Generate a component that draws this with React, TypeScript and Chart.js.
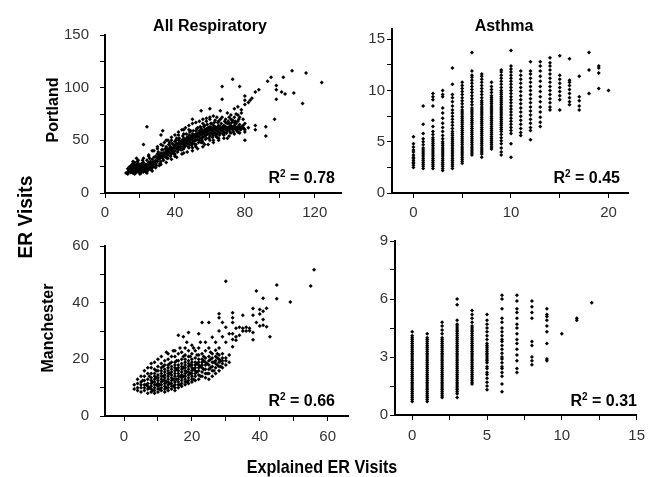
import React, { useEffect, useRef } from 'react';
import { Chart, registerables } from 'chart.js';
Chart.register(...registerables);

const FONT = '"Liberation Sans", Arial, Helvetica, sans-serif';

// ---------- Portland, All Respiratory (x = explained, y = observed) ----------
const PORTLAND_ALL: number[][] = [
  [13,20],[14,21],[14,23],[15,20],[15,22],[15,24],[15,26],[16,19],[16,21],[16,23],[16,25],[16,28],
  [17,20],[17,22],[17,24],[17,26],[17,29],[18,20],[18,21],[18,23],[18,25],[18,27],[19,20],[19,22],
  [19,24],[19,26],[19,28],[20,20],[20,21],[20,23],[20,25],[20,27],[21,21],[21,22],[21,24],[21,26],
  [21,28],[22,20],[22,22],[22,24],[22,26],[22,29],[23,21],[23,23],[23,25],[23,27],[24,21],[24,23],
  [24,25],[24,27],[24,31],[25,22],[25,24],[25,26],[25,29],[26,23],[26,25],[26,27],[26,30],[27,24],
  [27,26],[27,28],[27,32],[28,25],[28,27],[28,30],[28,34],
  [13.5,21],[14.5,22],[15.5,23],[16.5,24],[17.5,25],[18.5,22],[19.5,25],[20.5,22],[21.5,25],[22.5,23],
  [23.5,26],[24.5,24],[25.5,27],[26.5,25],[27.5,29],[14.5,19.5],[17.5,19.5],[20.5,19],[23.5,20],
  [26.5,22],[18.5,30],[21.5,31],[25.5,33],[15.5,27],
  [12,19],[13,18],[14,25],[16,30],[19,31],[22,33],[25,35],[17,18],[20,18],[24,19],[27,21],[29,24],
  [31,26],[13,23],[18,33],
  [29,28],[29,31],[29,35],[30,30],[30,33],[30,37],[31,32],[31,36],[32,30],[32,34],[32,38],[33,33],
  [33,36],[33,41],[34,35],[34,38],[35,34],[35,37],[35,40],[35,44],[36,36],[36,39],[36,42],[37,38],
  [37,41],[37,45],[38,37],[38,40],[38,43],[39,39],[39,42],[39,46],[40,40],[40,43],[40,45],[40,49],
  [41,42],[41,44],[41,47],[42,41],[42,44],[42,47],[42,50],[43,43],[43,46],[43,49],[44,44],[44,47],
  [44,50],[45,42],[45,46],[45,48],[45,52],[46,45],[46,48],[46,51],[47,47],[47,50],[47,53],[48,46],
  [48,49],[48,52],[48,55],[49,48],[49,51],[49,54],[50,47],[50,50],[50,53],[50,56],[51,49],[51,52],
  [51,55],[52,50],[52,53],[52,56],[52,59],[53,51],[53,54],[53,57],[54,50],[54,53],[54,56],[54,59],
  [55,52],[55,55],[55,58],[55,61],[56,53],[56,56],[56,59],[57,54],[57,57],[57,60],[58,52],[58,55],
  [58,58],[58,61],[59,56],[59,59],[59,62],[60,54],[60,57],[60,60],[60,63],[61,56],[61,59],[61,62],
  [62,55],[62,58],[62,61],[62,64],[63,57],[63,60],[63,63],[64,56],[64,59],[64,62],[65,58],[65,61],
  [65,64],[66,57],[66,60],[66,63],[67,59],[67,62],[68,58],[68,61],[68,64],[69,60],[69,63],[70,59],
  [70,62],[70,66],[71,60],[71,63],[72,61],[72,64],[72,70],[73,60],[73,62],[74,61],[74,64],[74,72],
  [75,60],[75,62],[75,66],[76,61],[76,63],[76,74],[77,62],[77,65],[78,61],[78,63],[78,76],
  [29.5,26],[30.5,39],[31.5,28],[32.5,41],[33.5,31],[34.5,42],[35.5,33],[36.5,46],[37.5,35],[38.5,47],
  [39.5,37],[40.5,50],[41.5,39],[42.5,52],[43.5,41],[44.5,54],[45.5,44],[46.5,56],[47.5,44],[48.5,58],
  [49.5,45],[50.5,59],[51.5,46],[52.5,61],[53.5,48],[54.5,63],[55.5,50],[56.5,63],[57.5,51],[58.5,65],
  [59.5,52],[60.5,66],[61.5,53],[62.5,67],[63.5,54],[64.5,67],[65.5,55],[66.5,66],[67.5,56],[68.5,68],
  [69.5,57],[70.5,68],[71.5,58],[72.5,67],[73.5,58],[74.5,68],[75.5,59],[76.5,70],[77.5,60],[79,64],
  [79.5,61],
  [30.5,34],[31.5,34],[32.5,36],[33.5,38],[34.5,37],[35.5,39],[36.5,40],[37.5,43],[38.5,41],[39.5,44],
  [40.5,46],[41.5,45],[42.5,48],[43.5,47],[44.5,49],[45.5,50],[46.5,49],[47.5,52],[48.5,51],[49.5,53],
  [50.5,54],[51.5,53],[52.5,55],[53.5,56],[54.5,57],[55.5,57],[56.5,58],[57.5,59],[58.5,59],[59.5,60],
  [60.5,61],[61.5,60],[62.5,62],[63.5,61],[64.5,63],[65.5,62],[66.5,62],[67.5,63],[68.5,62],[69.5,61],
  [70.5,61],[71.5,62],[72.5,62],[73.5,63],[74.5,62],[75.5,61],[76.5,62],[77.5,61],
  [30,44],[32,46],[34,48],[36,50],[38,53],[40,55],[42,58],[44,60],[46,62],[48,64],[50,66],[52,67],
  [54,68],[56,70],[58,71],[60,72],[33,45],[37,48],[41,52],[45,56],[49,59],[53,62],[57,64],[61,66],
  [65,68],[69,70],[63,69],[67,72],[71,66],[74,67],[76,68],
  [32,27],[35,29],[38,32],[41,34],[44,37],[47,39],[50,40],[53,42],[56,44],[59,46],[62,48],[65,50],
  [68,52],[71,54],[74,56],[77,57],[80,58],[36,33],[40,37],[44,41],[48,43],[52,46],[56,48],[60,50],
  [64,53],[68,56],[72,57],[76,58],[80,60],[82,62],
  [25,36],[22,46],[24,63],[27,40],[30,42],[32,55],[33,59],[35,50],[28,40],[38,50],[40,35],[45,38],
  [42,55],[48,60],[50,43],[52,44],[55,48],[56,66],[58,68],[60,70],[62,73],[64,72],[66,70],[57,46],
  [62,50],[65,52],[68,55],[70,52],[55,78],[50,70],[45,60],[60,80],[66,78],[70,76],[72,74],[74,80],
  [76,82],[78,79],[80,84],[82,86],[84,90],[80,92],[83,88],[86,96],[88,98],[69,67],[71,72],[73,69],
  [75,75],[77,72],[79,70],[80,66],[79,62],[80,50],[86,60],[86,64],[92,63],[92,54],[97,70],[93,106],
  [95,110],[98,102],[98,98],[101,96],[103,94],[102,110],[107,116],[108,95],[113,85],[115,114],
  [124,105],[98,89],[67,101],[73,108],[77,101],[67,89],[80,88]
];

// ---------- Portland, Asthma (columns at integer explained values) ----------
const PORTLAND_ASTHMA_X: number[] = [0,1,2,3,4,5,6,7,8,9,10,11,12,13,14,15,16,17,18,19,20];
const PORTLAND_ASTHMA_Y: number[][] = [
  [2.5,2.7,2.9,3.0,3.2,3.4,3.5,3.7,4.0,4.2,4.5,4.8,5.5],
  [2.4,2.6,2.8,3.0,3.2,3.4,3.6,3.8,4.0,4.2,4.4,4.7,5.0,5.3,5.8,6.7,8.5],
  [2.4,2.6,2.8,3.0,3.2,3.4,3.6,3.8,4.0,4.2,4.4,4.6,4.8,5.0,5.2,5.4,5.7,6.0,6.5,7.1,8.5,9.1,9.4,9.7],
  [2.2,2.4,2.6,2.8,3.0,3.2,3.4,3.6,3.8,4.0,4.2,4.4,4.6,4.8,5.0,5.3,5.6,6.0,6.4,6.8,7.3,7.8,8.3,9.4,9.6,10.0],
  [2.4,2.6,2.8,3.0,3.2,3.4,3.6,3.8,4.0,4.2,4.4,4.6,4.8,5.0,5.2,5.4,5.6,5.8,6.0,6.3,6.6,6.9,7.2,7.5,7.8,8.1,8.5,8.9,9.3,9.6,10.6,12.2],
  [2.9,3.1,3.3,3.5,3.7,3.9,4.1,4.3,4.5,4.7,4.9,5.1,5.3,5.5,5.7,5.9,6.1,6.3,6.5,6.7,6.9,7.1,7.3,7.5,7.7,7.9,8.1,8.4,8.7,9.0,9.3,9.6,9.9,10.2,10.5,10.8],
  [3.7,3.9,4.1,4.3,4.5,4.7,4.9,5.1,5.3,5.5,5.7,5.9,6.1,6.3,6.5,6.7,6.9,7.1,7.3,7.5,7.7,7.9,8.1,8.3,8.6,8.9,9.2,9.5,9.8,10.1,10.4,10.7,11.0,11.3,11.5,11.9,13.7],
  [3.5,3.8,4.0,4.2,4.4,4.6,4.8,5.0,5.2,5.4,5.6,5.8,6.0,6.2,6.4,6.6,6.8,7.0,7.2,7.4,7.6,7.8,8.0,8.2,8.4,8.6,8.8,9.0,9.3,9.6,9.9,10.2,10.5,10.8,11.1,11.4,11.6],
  [4.3,4.5,4.7,4.9,5.1,5.3,5.5,5.7,5.9,6.1,6.3,6.5,6.7,6.9,7.1,7.3,7.5,7.7,7.9,8.1,8.3,8.5,8.7,8.9,9.1,9.3,9.5,9.8,10.1,10.4,10.8],
  [3.7,4.0,4.4,4.8,5.1,5.4,5.7,6.0,6.2,6.4,6.6,6.8,7.0,7.2,7.4,7.6,7.8,8.0,8.2,8.4,8.6,8.8,9.0,9.2,9.4,9.6,9.8,10.0,10.3,10.6,10.9,11.2,11.5,11.8,12.0],
  [3.5,4.8,5.8,6.1,6.4,6.7,7.0,7.3,7.6,7.9,8.2,8.5,8.8,9.1,9.4,9.7,10.0,10.3,10.6,10.9,11.2,11.5,11.8,12.1,12.4,13.9],
  [5.6,5.9,6.3,6.7,7.1,7.5,7.9,8.3,8.7,9.1,9.5,9.9,10.3,10.7,11.1,11.5,11.9],
  [5.2,6.1,6.4,6.8,7.2,7.6,8.0,8.4,8.8,9.2,9.6,10.0,10.4,10.8,11.2,11.6,11.9,12.8],
  [6.5,6.9,7.4,7.9,8.4,8.9,9.4,9.9,10.4,10.9,11.4,11.9,12.4,12.8],
  [8.1,8.4,8.8,9.2,9.6,10.0,10.4,10.8,11.2,11.6,12.0,12.4,12.7,13.2],
  [8.1,9.1,9.5,9.9,10.3,10.7,11.1,11.5,13.4],
  [8.6,8.9,9.3,9.7,10.1,10.5,10.8,11.0,13.1],
  [8.1,8.5,9.0,9.4,11.4],
  [9.7,12.0,13.7],
  [10.2,11.7,12.2,12.4],
  [10.0]
];

// ---------- Manchester, All Respiratory ----------
const MANCHESTER_ALL: number[][] = [
  [3,9.5],[3,11],[4,9],[4,10],[4,11.5],[4,13],[5,8.5],[5,10],[5,11],[5,12],[5,14],[6,9],[6,10],[6,11],
  [6,12.5],[6,14],[6,16],[7,8],[7,9.5],[7,10.5],[7,11.5],[7,13],[7,15],[7,17],
  [8,8.5],[8,9.5],[8,10.5],[8,11.5],[8,12.5],[8,13.5],[8,15],[8,17],[8,18.5],
  [9,8],[9,9],[9,10],[9,11],[9,12],[9,13],[9,14],[9,15],[9,16.5],[9,19],
  [10,8.5],[10,9.5],[10,10.5],[10,11.5],[10,12.5],[10,13.5],[10,14.5],[10,16],[10,17.5],[10,20],
  [11,9],[11,10],[11,11],[11,12],[11,13],[11,14],[11,15],[11,16],[11,17],[11,18.5],[11,21],
  [12,8.5],[12,9.5],[12,10.5],[12,11.5],[12,12.5],[12,13.5],[12,14.5],[12,15.5],[12,16.5],[12,18],[12,19.5],
  [13,9],[13,10],[13,11],[13,12],[13,13],[13,14],[13,15],[13,16],[13,17],[13,18],[13,20],[13,22],
  [14,9.5],[14,10.5],[14,11.5],[14,12.5],[14,13.5],[14,14.5],[14,15.5],[14,16.5],[14,17.5],[14,19],[14,21],
  [15,9],[15,10],[15,11],[15,12],[15,13],[15,14],[15,15],[15,16],[15,17],[15,18],[15,19],[15,21],[15,23],
  [16,10],[16,11],[16,12],[16,13],[16,14],[16,15],[16,16],[16,17],[16,18],[16,19.5],[16,22],[16,28.5],
  [17,10.5],[17,11.5],[17,12.5],[17,13.5],[17,14.5],[17,15.5],[17,16.5],[17,17.5],[17,18.5],[17,20],[17,22.5],
  [18,11],[18,12],[18,13],[18,14],[18,15],[18,16],[18,17],[18,18],[18,19],[18,20],[18,21.5],[18,24],
  [19,11.5],[19,12.5],[19,13.5],[19,14.5],[19,15.5],[19,16.5],[19,17.5],[19,18.5],[19,19.5],[19,21],[19,23],[19,29.5],
  [20,12],[20,13],[20,14],[20,15],[20,16],[20,17],[20,18],[20,19],[20,20],[20,22],[20,25],
  [21,12.5],[21,14],[21,15],[21,16],[21,17],[21,18],[21,19],[21,20.5],[21,23],
  [22,13],[22,14.5],[22,16],[22,17],[22,18],[22,19],[22,20],[22,21.5],[22,24],[22,29],
  [23,14],[23,15.5],[23,17],[23,18],[23,19],[23,20],[23,22],[23,33],
  [24,13.5],[24,15],[24,16.5],[24,18],[24,19],[24,20.5],[24,23],[24,26],
  [25,13],[25,15],[25,16.5],[25,18],[25,19.5],[25,21],[25,24],[25,33],
  [26,14],[26,16],[26,17.5],[26,19],[26,20.5],[26,22],[26,27.8],
  [27,15],[27,17],[27,18.5],[27,19.5],[27,21],[27,23.2],[27,26],
  [28,16],[28,17.5],[28,19],[28,20],[28,21.5],[28,24],[28,36.1],[28,34.7],[28,30],
  [29,17],[29,18.5],[29,19.5],[29,20.5],[29,22],[29,33],[29,28],
  [30,18],[30,19.5],[30,20.5],[30,31.3],[30,47.6],[30,26],
  [7.5,10],[8.5,12],[9.5,13.5],[10.5,11],[11.5,14],[12.5,12],[13.5,15],[14.5,13],[15.5,16.5],[16.5,14],
  [17.5,17],[18.5,15.5],[19.5,18],[20.5,16.5],[21.5,18.5],[22.5,17.5],[23.5,19.5],[24.5,18.5],[25.5,20],
  [26.5,19],[27.5,20.5],[28.5,19.5],[6.5,11],[8.5,9],[10.5,9.5],[12.5,10],[14.5,10.5],[16.5,11],[18.5,12],
  [20.5,13],[22.5,14],[24.5,15],[26.5,16],[28.5,17.5],[9.5,11],[11.5,12.5],[13.5,11.5],[15.5,13],[17.5,14],
  [19.5,15],[21.5,15.5],[23.5,16.5],[25.5,17],[27.5,18],[5.5,12.5],[7.5,14],[9.5,16],[11.5,17.5],[13.5,18.5],
  [15.5,19.5],[17.5,21],[19.5,21],[21.5,21.5],[23.5,21],[25.5,22.5],[27.5,22],[12.5,22.5],[14.5,23],
  [16.5,24],[18.5,26],[20.5,24],[17.5,28],[22.5,26],
  [31,21.5],[31,19],[31,29],[32,24.4],[32,36.4],[32,34.7],[32,29],[32,27],[32,33],
  [33,26.7],[33,28],[33,31],[34,31.3],[34,28.5],[35,35.6],[35,30],[35,31],[36,31.3],[36,30],
  [37,30.1],[37,31],[38,37.9],[38,35.6],[38,29.5],[38,26.9],[39,44.1],[39,33],[40,37.6],[40,31.8],
  [40,36],[41,41.6],[41,37],[41,34.1],[41,32],[42,38],[42,31.5],[43,28],[45,41.4],[45,46.2],
  [49,40.2],[55,45.9],[56,51.6]
];

// ---------- Manchester, Asthma (columns at integer explained values) ----------
const MANCHESTER_ASTHMA_X: number[] = [0,1,2,3,4,5,6,7,8,9,10,11,12];
const MANCHESTER_ASTHMA_Y: number[][] = [
  [0.7,0.8,0.9,1.0,1.1,1.2,1.3,1.4,1.5,1.6,1.7,1.8,1.9,2.0,2.1,2.2,2.3,2.4,2.5,2.6,2.7,2.8,2.9,3.0,3.1,3.2,3.3,3.4,3.5,3.6,3.7,3.8,3.9,4.0,4.1,4.3],
  [0.7,0.8,0.9,1.0,1.1,1.2,1.3,1.4,1.5,1.6,1.7,1.8,1.9,2.0,2.1,2.2,2.3,2.4,2.5,2.6,2.7,2.8,2.9,3.0,3.1,3.2,3.3,3.4,3.5,3.6,3.7,3.8,3.9,4.0,4.2],
  [0.9,1.0,1.1,1.2,1.3,1.4,1.5,1.6,1.7,1.8,1.9,2.0,2.1,2.2,2.3,2.4,2.5,2.6,2.7,2.8,2.9,3.0,3.1,3.2,3.3,3.4,3.5,3.6,3.7,3.8,3.9,4.0,4.2,4.4,4.6,4.8],
  [0.9,1.1,1.2,1.3,1.4,1.5,1.6,1.7,1.8,1.9,2.0,2.1,2.2,2.3,2.4,2.5,2.6,2.7,2.8,2.9,3.0,3.1,3.2,3.3,3.4,3.5,3.6,3.7,3.8,3.9,4.0,4.1,4.2,4.3,4.4,4.5,4.6,4.7,4.9,5.7,6.0],
  [1.6,1.7,1.8,1.9,2.0,2.1,2.2,2.3,2.4,2.5,2.6,2.7,2.8,2.9,3.0,3.1,3.2,3.3,3.4,3.5,3.6,3.7,3.8,3.9,4.0,4.1,4.2,4.3,4.4,4.5,4.6,4.8,5.0,5.2,5.4],
  [1.3,1.5,1.7,1.9,2.1,2.2,2.4,2.5,2.7,2.8,2.9,3.0,3.1,3.2,3.3,3.4,3.5,3.6,3.7,3.9,4.1,4.3,4.5,4.7,4.9,5.2],
  [1.2,1.6,2.0,2.2,2.4,2.5,2.7,2.9,3.0,3.2,3.4,3.6,3.8,3.9,4.1,4.3,4.5,4.8,5.0,5.5,6.0,6.2],
  [2.2,2.4,2.8,3.1,3.4,3.7,3.9,4.2,4.5,4.7,5.0,5.3,5.5,5.9,6.2],
  [2.6,2.8,3.0,3.6,3.8,5.0,5.3,5.6,5.9],
  [2.8,2.9,3.7,4.3,4.6,4.9,5.1,5.2,5.5],
  [4.2],
  [4.9,5.0],
  [5.8]
];

// ---------- axes ----------
const P1_X_TICKS = [0, 20, 40, 60, 80, 100, 120];
const P1_X_LABELS = [0, 40, 80, 120];
const P1_Y_TICKS = [0, 25, 50, 75, 100, 125, 150];
const P1_Y_LABELS = [0, 50, 100, 150];
const P2_X_TICKS = [0, 5, 10, 15, 20];
const P2_X_LABELS = [0, 10, 20];
const P2_Y_TICKS = [0, 2.5, 5, 7.5, 10, 12.5, 15];
const P2_Y_LABELS = [0, 5, 10, 15];
const P3_X_TICKS = [0, 10, 20, 30, 40, 50, 60];
const P3_X_LABELS = [0, 20, 40, 60];
const P3_Y_TICKS = [0, 10, 20, 30, 40, 50, 60];
const P3_Y_LABELS = [0, 20, 40, 60];
const P4_X_TICKS = [0, 2.5, 5, 7.5, 10, 12.5, 15];
const P4_X_LABELS = [0, 5, 10, 15];
const P4_Y_TICKS = [0, 1.5, 3, 4.5, 6, 7.5, 9];
const P4_Y_LABELS = [0, 3, 6, 9];

const pairs = (arr: number[][]) => arr.map(([x, y]) => ({ x, y }));
const columns = (xs: number[], ys: number[][]) =>
  xs.flatMap((x, i) => ys[i].map((y) => ({ x, y })));

type PanelCfg = {
  area: { L: number; T: number; R: number; B: number };
  points: { x: number; y: number }[];
  xMin: number; xMax: number; yMin: number; yMax: number;
  xTicks: number[]; xLabels: number[]; yTicks: number[]; yLabels: number[];
  xPad: number; yPad: number;
};

const PAD_L = 60, PAD_T = 15, PAD_R = 15, PAD_B = 40;

function Panel({ cfg }: { cfg: PanelCfg }) {
  const ref = useRef<HTMLCanvasElement | null>(null);
  const { L, T, R, B } = cfg.area;
  const W = R - L + PAD_L + PAD_R;
  const H = B - T + PAD_T + PAD_B;
  useEffect(() => {
    if (!ref.current) return;
    const has = (list: number[], v: number) => list.some((l) => Math.abs(l - v) < 1e-6);
    const chart = new Chart(ref.current, {
      type: 'scatter',
      data: {
        datasets: [
          {
            data: cfg.points,
            pointStyle: 'rectRot',
            pointRadius: 2,
            backgroundColor: '#000',
            borderColor: '#000',
            borderWidth: 0,
          },
        ],
      },
      options: {
        responsive: false,
        animation: false,
        devicePixelRatio: 1,
        events: [],
        layout: { padding: { left: 0, top: PAD_T, right: PAD_R, bottom: 0 } },
        plugins: { legend: { display: false }, tooltip: { enabled: false } },
        scales: {
          x: {
            type: 'linear',
            min: cfg.xMin,
            max: cfg.xMax,
            afterFit: (s: any) => { s.height = PAD_B; },
            afterBuildTicks: (s: any) => { s.ticks = cfg.xTicks.map((v) => ({ value: v })); },
            ticks: {
              autoSkip: false,
              maxRotation: 0,
              padding: cfg.xPad,
              color: '#333',
              font: { family: FONT, size: 15 },
              callback: (v: any) => (has(cfg.xLabels, Number(v)) ? String(v) : ''),
            },
            grid: { display: true, drawOnChartArea: false, drawTicks: true, tickLength: 5, color: '#000', lineWidth: 1 },
            border: { display: true, color: '#000', width: 2 },
          },
          y: {
            type: 'linear',
            min: cfg.yMin,
            max: cfg.yMax,
            afterFit: (s: any) => { s.width = PAD_L; },
            afterBuildTicks: (s: any) => { s.ticks = cfg.yTicks.map((v) => ({ value: v })); },
            ticks: {
              autoSkip: false,
              padding: cfg.yPad,
              color: '#333',
              font: { family: FONT, size: 15 },
              callback: (v: any) => (has(cfg.yLabels, Number(v)) ? String(v) : ''),
            },
            grid: { display: true, drawOnChartArea: false, drawTicks: true, tickLength: 5, color: '#000', lineWidth: 1 },
            border: { display: true, color: '#000', width: 2 },
          },
        },
      },
    } as any);
    return () => chart.destroy();
  }, []);
  return (
    <canvas
      ref={ref}
      width={W}
      height={H}
      style={{ position: 'absolute', left: L - PAD_L, top: T - PAD_T, width: W, height: H }}
    />
  );
}

const PANELS: PanelCfg[] = [
  {
    area: { L: 105, T: 30, R: 341, B: 193 },
    points: pairs(PORTLAND_ALL),
    xMin: 0, xMax: 135, yMin: 0, yMax: 150,
    xTicks: P1_X_TICKS, xLabels: P1_X_LABELS, yTicks: P1_Y_TICKS, yLabels: P1_Y_LABELS,
    xPad: 6, yPad: 11,
  },
  {
    area: { L: 392, T: 29, R: 628, B: 193 },
    points: columns(PORTLAND_ASTHMA_X, PORTLAND_ASTHMA_Y),
    xMin: -2.2, xMax: 22, yMin: 0, yMax: 16,
    xTicks: P2_X_TICKS, xLabels: P2_X_LABELS, yTicks: P2_Y_TICKS, yLabels: P2_Y_LABELS,
    xPad: 6, yPad: 2,
  },
  {
    area: { L: 105, T: 241, R: 348, B: 416 },
    points: pairs(MANCHESTER_ALL),
    xMin: -5.6, xMax: 66, yMin: 0, yMax: 60,
    xTicks: P3_X_TICKS, xLabels: P3_X_LABELS, yTicks: P3_Y_TICKS, yLabels: P3_Y_LABELS,
    xPad: 7, yPad: 11,
  },
  {
    area: { L: 395, T: 241, R: 637, B: 415 },
    points: columns(MANCHESTER_ASTHMA_X, MANCHESTER_ASTHMA_Y),
    xMin: -1.15, xMax: 15, yMin: 0, yMax: 9,
    xTicks: P4_X_TICKS, xLabels: P4_X_LABELS, yTicks: P4_Y_TICKS, yLabels: P4_Y_LABELS,
    xPad: 7, yPad: 2,
  },
];

const R2_LABELS = ['0.78', '0.45', '0.66', '0.31'];
const R2_POS = [
  { right: 335, baseline: 183 },
  { right: 620, baseline: 183 },
  { right: 335, baseline: 406 },
  { right: 637, baseline: 406 },
];

function Label({ text, cx, cy, size, rotate, scale = 1 }: { text: string; cx: number; cy: number; size: number; rotate?: boolean; scale?: number }) {
  return (
    <div
      style={{
        position: 'absolute',
        left: cx,
        top: cy,
        transform: `translate(-50%, -50%)${rotate ? ' rotate(-90deg)' : ''} scaleX(${scale})`,
        fontFamily: FONT,
        fontWeight: 'bold',
        fontSize: size,
        lineHeight: `${size}px`,
        whiteSpace: 'nowrap',
        color: '#000',
      }}
    >
      {text}
    </div>
  );
}

export default function App() {
  return (
    <div style={{ position: 'absolute', left: 0, top: 0, width: 648, height: 477, background: '#fff', overflow: 'hidden' }}>
      {PANELS.map((p, i) => (
        <Panel key={i} cfg={p} />
      ))}
      {R2_LABELS.map((r, i) => (
        <div
          key={'r' + i}
          style={{
            position: 'absolute',
            right: 648 - R2_POS[i].right,
            top: R2_POS[i].baseline - 13.5,
            fontFamily: FONT,
            fontWeight: 'bold',
            fontSize: 16,
            lineHeight: '16px',
            whiteSpace: 'nowrap',
            color: '#000',
          }}
        >
          R<span style={{ fontSize: 10, position: 'relative', top: -6 }}>2</span> = {r}
        </div>
      ))}
      <Label text="All Respiratory" cx={210} cy={26} size={16} />
      <Label text="Asthma" cx={504} cy={26} size={16} />
      <Label text="Portland" cx={53} cy={110} size={16} rotate />
      <Label text="Manchester" cx={48} cy={328} size={16} rotate />
      <Label text="ER Visits" cx={25} cy={217} size={20} rotate scale={0.96} />
      <Label text="Explained ER Visits" cx={322} cy={466} size={19} scale={0.85} />
    </div>
  );
}
